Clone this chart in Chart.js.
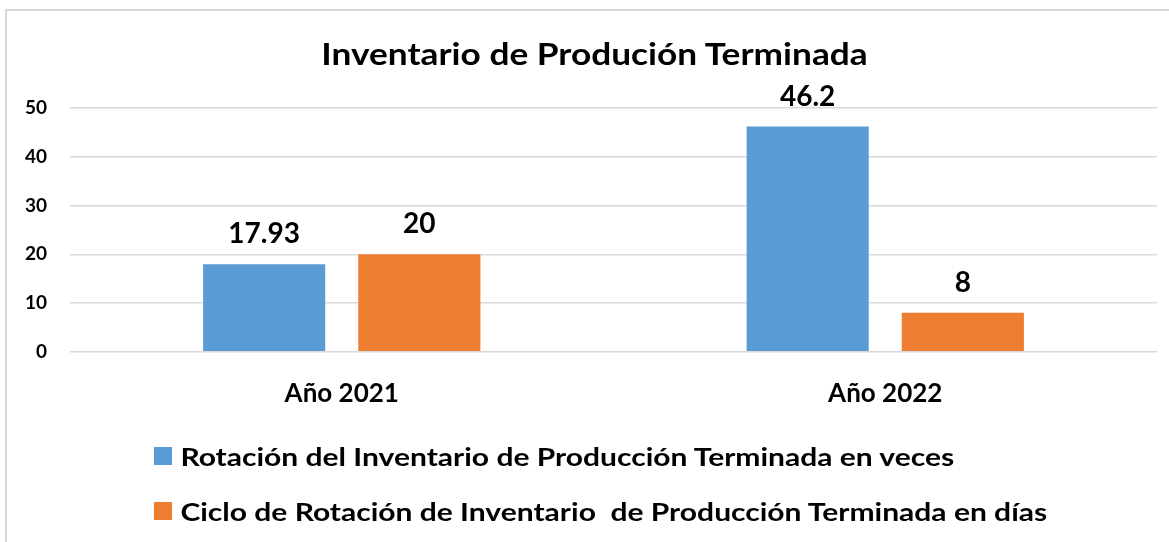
<!DOCTYPE html>
<html>
<head>
<meta charset="utf-8">
<script src="https://cdn.jsdelivr.net/npm/chart.js@4/dist/chart.umd.min.js"></script>
<style>
  html, body { margin: 0; padding: 0; background: #ffffff; }
  #wrap { position: relative; width: 1169px; height: 542px; overflow: hidden; }
  #frame {
    position: absolute; left: 5px; top: 9px; width: 1200px; height: 600px;
    border-top: 2px solid #d9d9d9; border-left: 2px solid #d9d9d9;
  }
  canvas { position: absolute; left: 0; top: 0; }
  .txt { font-family: Lato, "Open Sans", sans-serif; font-weight: bold; color: #000; white-space: pre; }
  #title {
    position: absolute; left: 0; top: 35px; width: 1189px; text-align: center;
    font-size: 30px; line-height: 36px;
    transform: scaleX(1.175); transform-origin: 594.5px 0;
  }
  .legend {
    position: absolute; left: 154px; font-size: 25px; line-height: 18px;
    display: flex; align-items: center;
    transform: scaleX(1.2); transform-origin: 0 50%;
  }
  .legend .box { width: 15px; height: 18px; margin-right: 7px; flex: none; }
</style>
</head>
<body>
<div id="wrap">
  <div id="frame"></div>
  <canvas id="chart" width="1169" height="542"></canvas>
  <div id="title" class="txt"></div>
  <div id="legend"></div>
</div>
<script>
// Categories and series values
const categories = ['Año 2021', 'Año 2022'];
const rotacionVeces = [17.93, 46.2];
const cicloDias = [20, 8];
const seriesNames = [
  'Rotación del Inventario de Producción Terminada en veces',
  'Ciclo de Rotación de Inventario  de Producción Terminada en días'
];
const seriesColors = ['#5B9BD5', '#ED7D31'];
const yTickMax = 50;
const yTickStep = 10;
const chartTitle = 'Inventario de Produción Terminada';

const FONT = 'Lato, "Open Sans", sans-serif';

// Value labels above each bar
const barValueLabels = {
  id: 'barValueLabels',
  afterDatasetsDraw(chart) {
    const ctx = chart.ctx;
    ctx.save();
    ctx.font = 'bold 28px ' + FONT;
    ctx.fillStyle = '#000';
    ctx.textAlign = 'center';
    ctx.textBaseline = 'middle';
    chart.data.datasets.forEach((ds, i) => {
      chart.getDatasetMeta(i).data.forEach((bar, j) => {
        ctx.fillText(String(ds.data[j]), bar.x, bar.y - 30);
      });
    });
    ctx.restore();
  }
};

new Chart(document.getElementById('chart'), {
  type: 'bar',
  data: {
    labels: categories,
    datasets: [
      { label: seriesNames[0], data: rotacionVeces, backgroundColor: seriesColors[0],
        categoryPercentage: 0.571, barPercentage: 0.787 },
      { label: seriesNames[1], data: cicloDias, backgroundColor: seriesColors[1],
        categoryPercentage: 0.571, barPercentage: 0.787 }
    ]
  },
  options: {
    responsive: false,
    animation: false,
    layout: { padding: { left: 0, right: 12, top: 108, bottom: 107 } },
    plugins: {
      legend: { display: false },
      tooltip: { enabled: false },
      title: { display: false }
    },
    scales: {
      x: {
        grid: { display: false, drawTicks: false },
        border: { display: false },
        ticks: { color: '#000', padding: 26, font: { family: FONT, size: 26, weight: 'bold' } }
      },
      y: {
        min: 0, max: yTickMax,
        afterFit(scale) { scale.width = 70; },
        grid: { color: '#d9d9d9', lineWidth: 1.5, drawTicks: false },
        border: { display: false },
        ticks: { stepSize: yTickStep, color: '#000', padding: 23,
                 font: { family: FONT, size: 19, weight: 'bold' } }
      }
    }
  },
  plugins: [barValueLabels]
});

// Title
document.getElementById('title').textContent = chartTitle;

// Legend rows
const legendEl = document.getElementById('legend');
const legendTops = [447, 502];
seriesNames.forEach((name, i) => {
  const row = document.createElement('div');
  row.className = 'legend txt';
  row.style.top = legendTops[i] + 'px';
  const box = document.createElement('span');
  box.className = 'box';
  box.style.background = seriesColors[i];
  const txt = document.createElement('span');
  txt.textContent = name;
  row.appendChild(box);
  row.appendChild(txt);
  legendEl.appendChild(row);
});
</script>
</body>
</html>
